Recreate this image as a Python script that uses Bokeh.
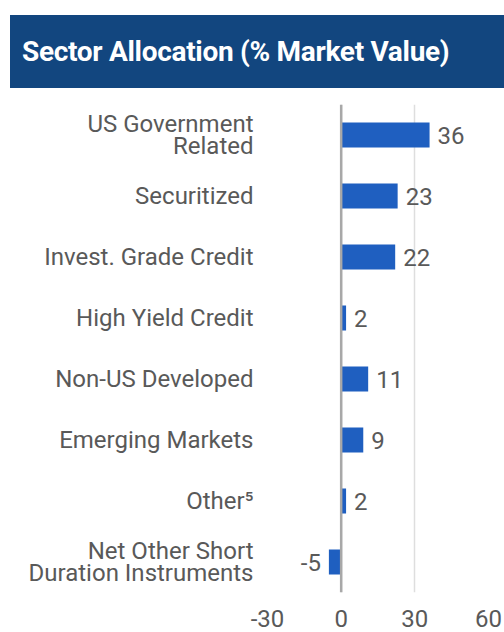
from bokeh.plotting import figure
from bokeh.models import Range1d, FactorRange, Span, Div, ColumnDataSource, FixedTicker
from bokeh.layouts import column
from bokeh.embed import file_html
from bokeh.resources import INLINE
from bokeh.core.properties import value

title_text = "Sector Allocation (% Market Value)"
categories = [
    "US Government\nRelated",
    "Securitized",
    "Invest. Grade Credit",
    "High Yield Credit",
    "Non-US Developed",
    "Emerging Markets",
    "Other\u2075",
    "Net Other Short\nDuration Instruments",
]
values = [36, 23, 22, 2, 11, 9, 2, -5]
x_ticks = [-30, 0, 30, 60]
x_tick_labels = {-30: "-30", 0: "0", 30: "30", 60: "60"}

BAR = "#1f5fc0"
GRAY = "#595959"
FONT = "Roboto"

div = Div(
    text=('<div style="padding-left:12px; line-height:73px; height:73px; color:white; '
          'font-family:Roboto, sans-serif; font-weight:bold; letter-spacing:-0.3px; '
          'font-size:28px; white-space:nowrap; overflow:hidden;">' + title_text + '</div>'),
    width=494, height=73, margin=(15, 0, 0, 10),
    styles={"background-color": "#12467f", "overflow": "hidden"},
)

p = figure(
    width=504, height=544,
    y_range=FactorRange(*reversed(categories)),
    x_range=Range1d(-30, 60),
    output_backend="svg", toolbar_location=None,
    min_border_left=267, min_border_right=16,
    min_border_top=16, min_border_bottom=40,
)
p.outline_line_color = None
p.background_fill_color = "white"
p.border_fill_color = "white"

src = ColumnDataSource(dict(cat=categories, val=values))
p.hbar(y="cat", right="val", left=0, height=0.41, source=src,
       fill_color=BAR, line_color=None)

pos_src = ColumnDataSource(dict(
    cat=[c for c, v in zip(categories, values) if v >= 0],
    val=[v for v in values if v >= 0],
    lab=[str(v) for v in values if v >= 0]))
neg_src = ColumnDataSource(dict(
    cat=[c for c, v in zip(categories, values) if v < 0],
    val=[v for v in values if v < 0],
    lab=[str(v) for v in values if v < 0]))

p.text(x="val", y="cat", text="lab", source=pos_src, x_offset=8,
       text_align="left", text_baseline="middle", text_font=value(FONT),
       text_font_size="24px", text_color=GRAY)
p.text(x="val", y="cat", text="lab", source=neg_src, x_offset=-8,
       text_align="right", text_baseline="middle", text_font=value(FONT),
       text_font_size="24px", text_color=GRAY)

p.add_layout(Span(location=0, dimension="height", line_color="#a8a8a8", line_width=2.5))

p.xaxis.ticker = FixedTicker(ticks=x_ticks)
p.xaxis.major_label_overrides = x_tick_labels
p.xgrid.ticker = FixedTicker(ticks=x_ticks)
p.xgrid.grid_line_color = "#dedede"
p.xgrid.grid_line_width = 1.5
p.ygrid.grid_line_color = None

for ax in (p.xaxis[0], p.yaxis[0]):
    ax.axis_line_color = None
    ax.major_tick_line_color = None
    ax.minor_tick_line_color = None
    ax.major_label_text_font = FONT
    ax.major_label_text_font_size = "24px"
    ax.major_label_text_color = GRAY

p.xaxis.major_label_standoff = 11
p.yaxis.major_label_standoff = 8
p.yaxis.major_label_text_line_height = 0.8

layout = column(div, p, spacing=0)
open("out.html", "w").write(file_html(layout, INLINE))
